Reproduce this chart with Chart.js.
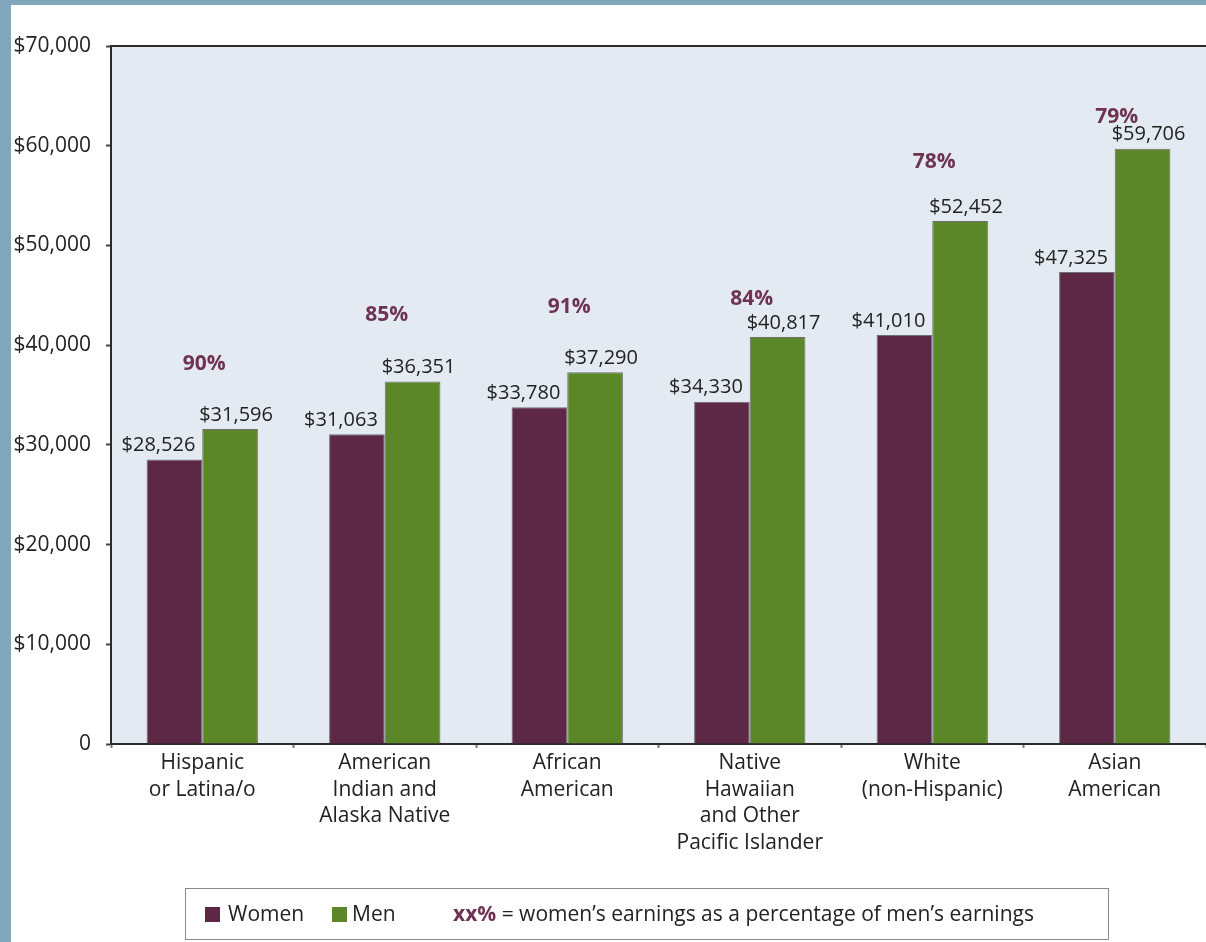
<!DOCTYPE html>
<html>
<head>
<meta charset="utf-8">
<title>Median earnings by race and ethnicity</title>
<script src="https://cdn.jsdelivr.net/npm/chart.js@4"></script>
<style>
  html, body { margin: 0; padding: 0; }
  body { background: #80a7bc; width: 1206px; height: 942px; overflow: hidden; position: relative; }
  #frame { position: absolute; left: 11px; top: 5px; width: 1195px; height: 937px; background: #fff; }
</style>
</head>
<body>
<div id="frame"><canvas id="earningsChart"></canvas></div>
<script>
"use strict";

// groups along the x axis, one label line per array entry
const groups = [
  ['Hispanic', 'or Latina/o'],
  ['American', 'Indian and', 'Alaska Native'],
  ['African', 'American'],
  ['Native', 'Hawaiian', 'and Other', 'Pacific Islander'],
  ['White', '(non-Hispanic)'],
  ['Asian', 'American']
];

// median annual earnings, dollars
const women = [28526, 31063, 33780, 34330, 41010, 47325];
const men = [31596, 36351, 37290, 40817, 52452, 59706];

// height (in dollars on the y scale) where each ratio label sits
const ratioLabelAt = [38100, 43000, 43800, 44600, 58400, 62900];

const yTicks = [0, 10000, 20000, 30000, 40000, 50000, 60000, 70000];

const WOMEN_COLOR = '#5c2846';
const MEN_COLOR = '#5b8729';
const RATIO_COLOR = '#6e3253';
const FONT = '"Open Sans", sans-serif';

let money = function (v) {
  return v === 0 ? '0' : '$' + v.toLocaleString('en-US');
};

// light panel behind the bars plus the top rule
const panel = {
  id: 'panel',
  beforeDraw(chart) {
    const a = chart.chartArea;
    const c = chart.ctx;
    c.save();
    c.fillStyle = '#e4eaf1';
    c.fillRect(a.left, a.top, a.right - a.left, a.bottom - a.top);
    c.strokeStyle = '#2a2a2a';
    c.lineWidth = 2;
    c.beginPath();
    c.moveTo(a.left, a.top);
    c.lineTo(a.right, a.top);
    c.stroke();
    c.restore();
  }
};

// dollar amounts over bars, ratio percentages over each group, and the legend box
const labels = {
  id: 'labels',
  afterDatasetsDraw(chart) {
    const c = chart.ctx;
    const y = chart.scales.y;
    c.save();
    c.fillStyle = '#222';
    c.font = '20px ' + FONT;
    c.textAlign = 'center';
    c.textBaseline = 'bottom';
    const shift = [-16, 6];
    chart.data.datasets.forEach((ds, d) => {
      chart.getDatasetMeta(d).data.forEach((bar, i) => {
        c.fillText(money(ds.data[i]), bar.x + shift[d], bar.y - 4);
      });
    });

    c.font = 'bold 21px ' + FONT;
    c.fillStyle = RATIO_COLOR;
    c.textBaseline = 'middle';
    const xs = chart.scales.x;
    women.forEach((w, i) => {
      const pct = Math.round(w / men[i] * 100) + '%';
      c.fillText(pct, xs.getPixelForValue(i) + 2, y.getPixelForValue(ratioLabelAt[i]));
    });

    // legend
    c.strokeStyle = '#8a8a8a';
    c.lineWidth = 1;
    c.strokeRect(174.5, 883.5, 923, 51);
    const ty = 910;
    c.textAlign = 'left';
    c.textBaseline = 'middle';
    c.font = '21px ' + FONT;
    c.fillStyle = WOMEN_COLOR;
    c.fillRect(194, 902, 15, 15);
    c.fillStyle = '#222';
    c.fillText('Women', 217, ty);
    c.fillStyle = MEN_COLOR;
    c.fillRect(321, 902, 15, 15);
    c.fillStyle = '#222';
    c.fillText('Men', 341, ty);
    c.font = 'bold 21px ' + FONT;
    c.fillStyle = RATIO_COLOR;
    c.fillText('xx%', 442, ty);
    const w = c.measureText('xx%').width;
    c.font = '21px ' + FONT;
    c.fillStyle = '#222';
    c.fillText(' = women\u2019s earnings as a percentage of men\u2019s earnings', 442 + w, ty);
    c.restore();
  }
};

const info = {
  labels: groups,
  datasets: [
    {
      label: 'Women',
      data: women,
      backgroundColor: WOMEN_COLOR,
      borderColor: 'rgba(70,70,70,0.75)',
      borderWidth: 1,
      borderSkipped: 'bottom'
    },
    {
      label: 'Men',
      data: men,
      backgroundColor: MEN_COLOR,
      borderColor: 'rgba(70,70,70,0.75)',
      borderWidth: 1,
      borderSkipped: 'bottom'
    }
  ]
};

const config = {
  type: 'bar',
  data: info,
  options: {
    responsive: true,
    maintainAspectRatio: false,
    animation: false,
    categoryPercentage: 0.61,
    barPercentage: 1.0,
    layout: { padding: { top: 41, left: 0, right: 0, bottom: 0 } },
    plugins: {
      legend: { display: false },
      tooltip: { enabled: false }
    },
    scales: {
      x: {
        afterFit: function (scale) { scale.height = 198; },
        grid: {
          offset: true,
          drawOnChartArea: false,
          drawTicks: true,
          tickLength: 4,
          tickWidth: 2,
          tickColor: '#777'
        },
        border: { display: true, color: '#2a2a2a', width: 2 },
        ticks: {
          color: '#222',
          padding: 2,
          maxRotation: 0,
          autoSkip: false,
          font: { family: FONT, size: 21, lineHeight: 1.26 }
        }
      },
      y: {
        min: 0,
        max: 70000,
        afterFit: function (scale) { scale.width = 100; },
        afterBuildTicks: function (scale) {
          scale.ticks = yTicks.map(v => ({ value: v }));
        },
        grid: {
          drawOnChartArea: false,
          drawTicks: true,
          tickLength: 5,
          tickWidth: 2,
          tickColor: '#444'
        },
        border: { display: true, color: '#2a2a2a', width: 2 },
        ticks: {
          color: '#222',
          padding: 15,
          font: { family: FONT, size: 21 },
          callback: function (value) { return money(value); }
        }
      }
    }
  },
  plugins: [panel, labels]
};

const earningsChart = new Chart(document.getElementById('earningsChart').getContext('2d'), config);
</script>
</body>
</html>
